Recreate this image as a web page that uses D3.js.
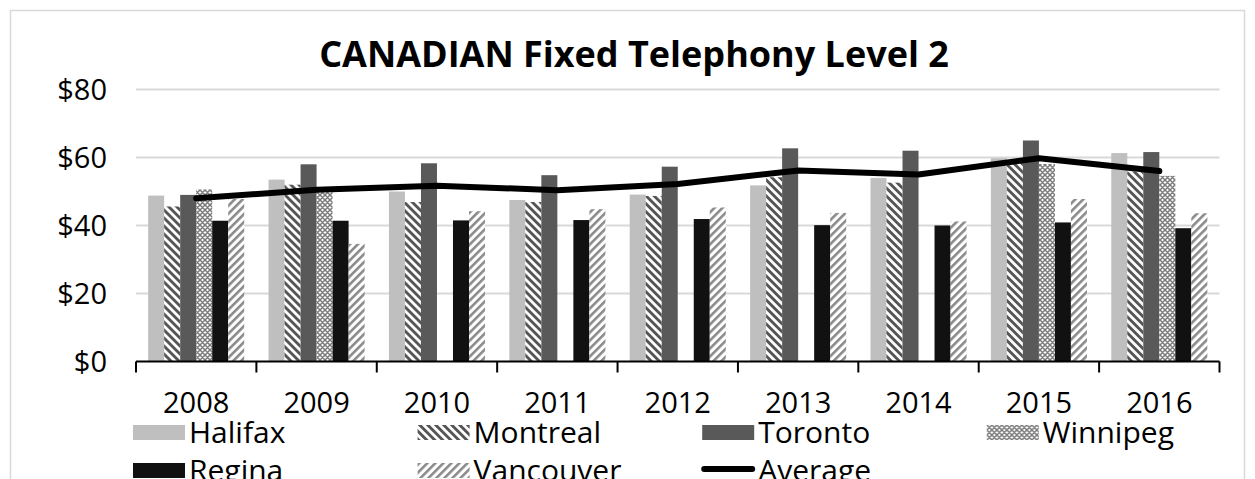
<!DOCTYPE html>
<html>
<head>
<meta charset="utf-8">
<script src="https://cdn.jsdelivr.net/npm/d3@7"></script>
<style>
  html, body { margin: 0; padding: 0; background: #fff; }
  svg { display: block; font-family: "Open Sans", "Noto Sans", "DejaVu Sans", sans-serif; }
</style>
</head>
<body>
<svg id="chart" width="1255" height="479"></svg>
<script>
// ---- data -------------------------------------------------------------
const years = ["2008", "2009", "2010", "2011", "2012", "2013", "2014", "2015", "2016"];

const halifax   = [48.8, 53.5, 50.0, 47.5, 49.1, 51.8, 54.0, 59.8, 61.3];
const montreal  = [45.6, 52.0, 46.9, 46.9, 48.7, 54.2, 52.6, 58.4, 55.9];
const toronto   = [49.0, 58.0, 58.3, 54.8, 57.3, 62.7, 62.0, 65.0, 61.6];
const winnipeg  = [50.6, 51.3, null, null, null, null, null, 58.1, 54.6];
const regina    = [41.4, 41.4, 41.5, 41.6, 41.9, 40.1, 40.0, 40.9, 39.2];
const vancouver = [47.8, 34.6, 44.2, 44.8, 45.3, 43.7, 41.2, 47.8, 43.6];
const average   = [48.0, 50.5, 51.7, 50.4, 52.2, 56.2, 55.0, 59.8, 56.0];

const seriesNames = ["Halifax", "Montreal", "Toronto", "Winnipeg", "Regina", "Vancouver"];
const yTickValues = [0, 20, 40, 60, 80];
const titleText = "CANADIAN Fixed Telephony Level 2";

const seriesValues = [halifax, montreal, toronto, winnipeg, regina, vancouver];
const fills = {
  Halifax: "#bfbfbf",
  Montreal: "url(#pat-montreal)",
  Toronto: "#595959",
  Winnipeg: "url(#pat-winnipeg)",
  Regina: "#111111",
  Vancouver: "url(#pat-vancouver)"
};

// ---- setup ------------------------------------------------------------
const svg = d3.select("#chart");
const defs = svg.append("defs");

function stripes(id, angle, color, period, thick) {
  const p = defs.append("pattern")
    .attr("id", id)
    .attr("patternUnits", "userSpaceOnUse")
    .attr("width", period).attr("height", period)
    .attr("patternTransform", `rotate(${angle})`);
  p.append("rect").attr("width", period).attr("height", period).attr("fill", "#fff");
  p.append("rect").attr("width", thick).attr("height", period).attr("fill", color);
}
stripes("pat-montreal", -45, "#555555", 5.66, 2.9);
stripes("pat-vancouver", 45, "#8a8a8a", 5.66, 2.6);

const pw = defs.append("pattern")
  .attr("id", "pat-winnipeg")
  .attr("patternUnits", "userSpaceOnUse")
  .attr("width", 5).attr("height", 5);
pw.append("rect").attr("width", 5).attr("height", 5).attr("fill", "#fff");
pw.append("path")
  .attr("d", "M0,0L5,5M5,0L0,5M-1,4L1,6M4,-1L6,1M-1,1L1,-1M4,6L6,4")
  .attr("stroke", "#7a7a7a").attr("stroke-width", 1.5).attr("fill", "none");

// chart frame
svg.append("rect")
  .attr("x", 10.5).attr("y", 10.5)
  .attr("width", 1234).attr("height", 520)
  .attr("fill", "none").attr("stroke", "#d9d9d9").attr("stroke-width", 1.5);

// ---- scales -----------------------------------------------------------
const x = d3.scaleBand().domain(years).range([136, 1219.5]).paddingInner(0).paddingOuter(0);
const xs = d3.scaleBand().domain(seriesNames).range([0, x.bandwidth()]).paddingInner(0).paddingOuter(0.76);
const y = d3.scaleLinear().domain([0, 80]).range([361.5, 89.5]);

// ---- gridlines & y labels ---------------------------------------------
svg.append("g").selectAll("line")
  .data(yTickValues.filter(v => v > 0))
  .join("line")
  .attr("x1", x.range()[0]).attr("x2", x.range()[1])
  .attr("y1", d => y(d)).attr("y2", d => y(d))
  .attr("stroke", "#d9d9d9").attr("stroke-width", 2);

svg.append("g").selectAll("text")
  .data(yTickValues)
  .join("text")
  .attr("x", 107)
  .attr("y", d => y(d))
  .attr("dy", "0.36em")
  .attr("text-anchor", "end")
  .attr("font-size", 29)
  .attr("fill", "#000")
  .text(d => "$" + d);

// ---- bars -------------------------------------------------------------
const barData = [];
years.forEach((yr, i) => {
  seriesNames.forEach((s, j) => {
    const v = seriesValues[j][i];
    if (v != null) barData.push({ yr, s, v });
  });
});

svg.append("g").selectAll("rect")
  .data(barData)
  .join("rect")
  .attr("x", d => x(d.yr) + xs(d.s))
  .attr("width", xs.bandwidth())
  .attr("y", d => y(d.v))
  .attr("height", d => y(0) - y(d.v))
  .attr("fill", d => fills[d.s]);

// ---- x axis -----------------------------------------------------------
const boundaries = years.map(d => x(d)).concat([x.range()[1]]);
const xAxis = svg.append("g");
xAxis.append("line")
  .attr("x1", x.range()[0]).attr("x2", x.range()[1])
  .attr("y1", y(0)).attr("y2", y(0))
  .attr("stroke", "#000").attr("stroke-width", 2);
xAxis.selectAll("line.tick")
  .data(boundaries)
  .join("line")
  .attr("class", "tick")
  .attr("x1", d => d).attr("x2", d => d)
  .attr("y1", y(0)).attr("y2", y(0) + 11)
  .attr("stroke", "#000").attr("stroke-width", 2);
xAxis.selectAll("text")
  .data(years)
  .join("text")
  .attr("x", d => x(d) + x.bandwidth() / 2)
  .attr("y", 413)
  .attr("text-anchor", "middle")
  .attr("font-size", 29)
  .attr("fill", "#000")
  .text(d => d);

// ---- average line -----------------------------------------------------
const line = d3.line()
  .x((d, i) => x(years[i]) + x.bandwidth() / 2)
  .y(d => y(d));
svg.append("path")
  .datum(average)
  .attr("d", line)
  .attr("fill", "none")
  .attr("stroke", "#000")
  .attr("stroke-width", 6)
  .attr("stroke-linejoin", "round")
  .attr("stroke-linecap", "round");

// ---- title ------------------------------------------------------------
svg.append("text")
  .attr("x", 634).attr("y", 67)
  .attr("text-anchor", "middle")
  .attr("font-size", 36)
  .attr("font-weight", "bold")
  .attr("fill", "#000")
  .text(titleText);

// ---- legend -----------------------------------------------------------
const legendItems = seriesNames.map(s => ({ name: s, type: "bar" }))
  .concat([{ name: "Average", type: "line" }]);
const legend = svg.append("g");
const item = legend.selectAll("g")
  .data(legendItems)
  .join("g")
  .attr("transform", (d, i) => `translate(${133 + (i % 4) * 284.6},${i < 4 ? 425 : 463})`);
item.filter(d => d.type === "bar").append("rect")
  .attr("width", 52).attr("height", 15)
  .attr("fill", d => fills[d.name]);
item.filter(d => d.type === "line").append("line")
  .attr("x1", 2).attr("x2", 50).attr("y1", 6).attr("y2", 6)
  .attr("stroke", "#000").attr("stroke-width", 6).attr("stroke-linecap", "round");
item.append("text")
  .attr("x", 56).attr("y", 18)
  .attr("font-size", 30)
  .attr("fill", "#000")
  .text(d => d.name);
</script>
</body>
</html>
